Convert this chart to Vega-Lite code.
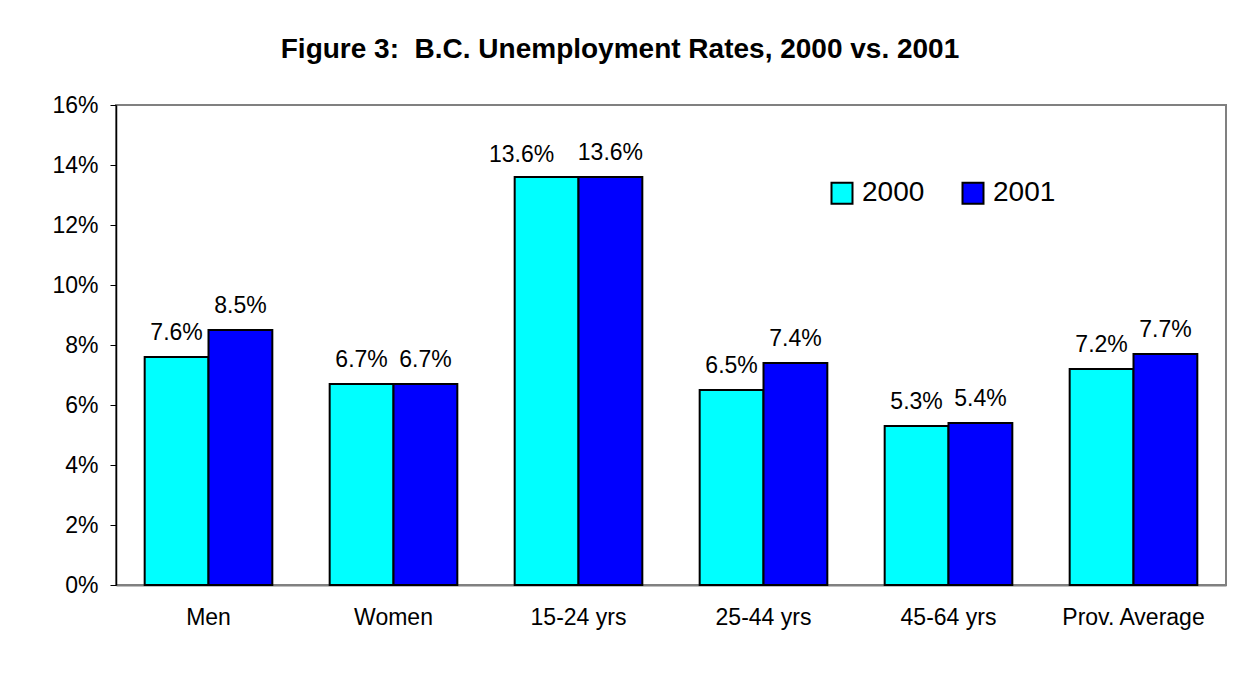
{
  "$schema": "https://vega.github.io/schema/vega-lite/v6.json",
  "width": 1110,
  "height": 480,
  "autosize": "none",
  "padding": {"left": 116, "top": 105, "right": 23, "bottom": 94},
  "background": "white",
  "config": {
    "font": "Liberation Sans",
    "view": {"stroke": "#808080", "strokeWidth": 2}
  },
  "title": {
    "text": "Figure 3:\u00a0 B.C. Unemployment Rates, 2000 vs. 2001",
    "font": "Liberation Sans",
    "fontSize": 28,
    "fontWeight": "bold",
    "color": "black",
    "anchor": "middle",
    "frame": "group",
    "baseline": "alphabetic",
    "dx": -51,
    "offset": 8
  },
  "data": {
    "values": [
      {"group": "Men", "year": "2000", "rate": 0.076},
      {"group": "Men", "year": "2001", "rate": 0.085},
      {"group": "Women", "year": "2000", "rate": 0.067},
      {"group": "Women", "year": "2001", "rate": 0.067},
      {"group": "15-24 yrs", "year": "2000", "rate": 0.136},
      {"group": "15-24 yrs", "year": "2001", "rate": 0.136},
      {"group": "25-44 yrs", "year": "2000", "rate": 0.065},
      {"group": "25-44 yrs", "year": "2001", "rate": 0.074},
      {"group": "45-64 yrs", "year": "2000", "rate": 0.053},
      {"group": "45-64 yrs", "year": "2001", "rate": 0.054},
      {"group": "Prov. Average", "year": "2000", "rate": 0.072},
      {"group": "Prov. Average", "year": "2001", "rate": 0.077}
    ]
  },
  "encoding": {
    "x": {
      "field": "group",
      "type": "nominal",
      "sort": null,
      "scale": {"paddingInner": 0.31, "paddingOuter": 0.155},
      "axis": {
        "title": null,
        "labelAngle": 0,
        "ticks": false,
        "labelPadding": 21,
        "labelFontSize": 23,
        "labelColor": "black",
        "domainColor": "#808080",
        "domainWidth": 2
      }
    },
    "xOffset": {"field": "year", "type": "nominal"},
    "y": {
      "field": "rate",
      "type": "quantitative",
      "scale": {"domain": [0, 0.16]},
      "axis": {
        "title": null,
        "values": [0, 0.02, 0.04, 0.06, 0.08, 0.1, 0.12, 0.14, 0.16],
        "format": ".0%",
        "grid": false,
        "domainColor": "black",
        "domainWidth": 1.5,
        "tickColor": "black",
        "tickSize": 6,
        "labelPadding": 12,
        "labelFontSize": 23,
        "labelColor": "black"
      }
    }
  },
  "layer": [
    {
      "mark": {"type": "bar", "stroke": "black", "strokeWidth": 2},
      "encoding": {
        "color": {
          "field": "year",
          "type": "nominal",
          "scale": {"domain": ["2000", "2001"], "range": ["#00FFFF", "#0000FF"]},
          "legend": {
            "title": null,
            "orient": "none",
            "legendX": 712,
            "legendY": 74,
            "direction": "horizontal",
            "symbolType": "square",
            "symbolSize": 441,
            "symbolStrokeColor": "black",
            "symbolStrokeWidth": 2,
            "labelFontSize": 28,
            "labelColor": "black",
            "labelOffset": 6,
            "columnPadding": 33
          }
        }
      }
    },
    {
      "transform": [{"filter": "!(datum.group === '15-24 yrs' && datum.year === '2000')"}],
      "mark": {"type": "text", "baseline": "alphabetic", "dy": -17, "fontSize": 23, "color": "black"},
      "encoding": {
        "text": {"field": "rate", "type": "quantitative", "format": ".1%"}
      }
    },
    {
      "transform": [{"filter": "datum.group === '15-24 yrs' && datum.year === '2000'"}],
      "mark": {"type": "text", "baseline": "alphabetic", "dy": -15, "dx": -25, "fontSize": 23, "color": "black"},
      "encoding": {
        "text": {"field": "rate", "type": "quantitative", "format": ".1%"}
      }
    }
  ]
}
